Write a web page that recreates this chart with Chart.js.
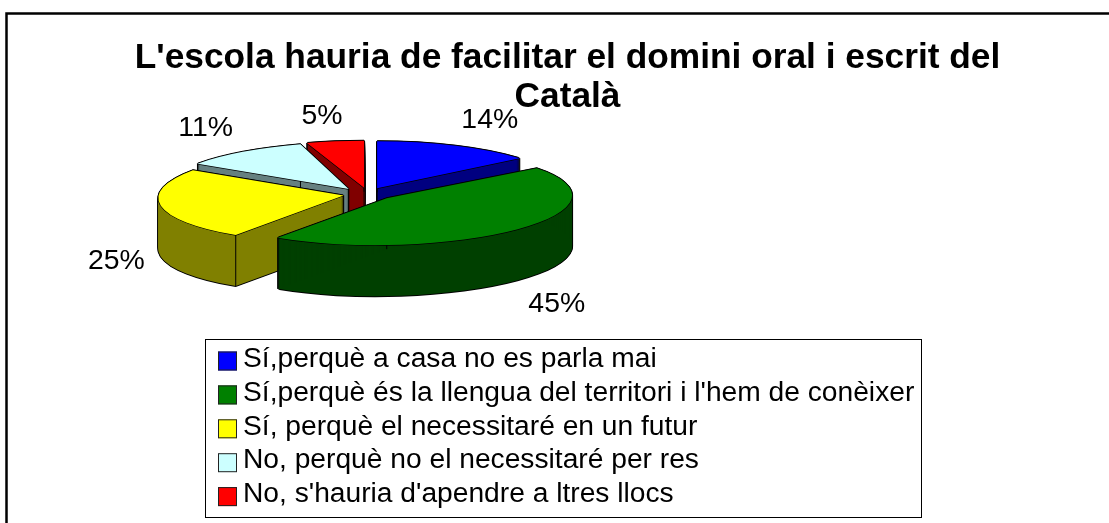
<!DOCTYPE html>
<html><head><meta charset="utf-8">
<style>html,body{margin:0;padding:0;background:#fff;overflow:hidden}canvas{display:block}</style>
<script src="https://cdn.jsdelivr.net/npm/chart.js@4"></script>
</head><body>
<div style="position:relative;width:1109px;height:523px"><canvas id="c" width="1109" height="523"></canvas></div>
<script>
const titleLines = ["L'escola hauria de facilitar el domini oral i escrit del", "Català"];
const categories = ["Sí,perquè a casa no es parla mai", "Sí,perquè és la llengua del territori i l'hem de conèixer", "Sí, perquè el necessitaré en un futur", "No, perquè no el necessitaré per res", "No, s'hauria d'apendre a ltres llocs"];
const values = [14, 45, 25, 11, 5];
const topColors = ["#0000FF", "#008000", "#FFFF00", "#CCFFFF", "#FF0000"];
const wallColors = ["#000080", "#004000", "#808000", "#668080", "#800000"];
const paintOrder = [4, 3, 0, 2, 1];
const nudgeX = [-1.5, 0, 0, -4, 0];
const sliceShear = [0, -0.25, -0.22, -0.2, 0];
const labelShift = [[43, -31.5], [50, 79], [-71, 57], [-49, -29], [-17, -31]];

const FONT = '"Liberation Sans", Arial, sans-serif';
const SQUASH = 0.254, DEPTH = 51, RADIUS = 185, EXPLODE = 25, CX = 368, CY = 194, TITLE_SIZE = 35.3, TITLE_LH = 1.105;
const LEGEND = {left: 205, top: 339, right: 921, bottom: 517, rowStep: 33.9, swatchY: 361, textY: 359, swatchX: 218, swatch: 19, textX: 243, size: 28.2};

function apex(arc, i) {
  const mid = (arc.startAngle + arc.endAngle) / 2;
  return [arc.x + Math.cos(mid) * EXPLODE + nudgeX[i], arc.y + Math.sin(mid) * EXPLODE * SQUASH];
}
function paintArc(ctx, arc, i, color, dx, dy) {
  const saved = arc.options, a = apex(arc, i);
  arc.options = {...saved, backgroundColor: color, borderWidth: 0};
  ctx.save();
  ctx.translate(a[0] + dx, a[1] + dy);
  ctx.transform(1, 0, sliceShear[i], 1, 0, 0);
  ctx.scale(1, SQUASH);
  ctx.translate(-arc.x, -arc.y);
  arc.draw(ctx);
  ctx.restore();
  arc.options = saved;
}
function arcCorners(arc, i) {
  const a = apex(arc, i), r = arc.outerRadius;
  const pt = t => {
    const ry = Math.sin(t) * r * SQUASH;
    return [a[0] + Math.cos(t) * r + sliceShear[i] * ry, a[1] + ry];
  };
  return [a, pt(arc.startAngle), pt(arc.endAngle)];
}
const SHIFTS = [[-1, 0], [1, 0], [0, -1], [0, 1]];
const pie3d = {
  id: 'pie3d',
  afterLayout(chart) {
    const t = chart.titleBlock;
    t.left = 0; t.right = 1135; t.top = 39;
  },
  beforeDraw(chart) {
    const c = chart.ctx;
    c.save();
    c.strokeStyle = '#000'; c.lineWidth = 2.5;
    c.strokeRect(6.5, 13.5, 1200, 600);
    c.restore();
  },
  beforeDatasetDraw(chart, args) {
    const c = chart.ctx, arcs = args.meta.data;
    paintOrder.forEach(i => {
      const arc = arcs[i];
      for (let d = 0; d <= DEPTH; d += 1) {
        SHIFTS.forEach(s => paintArc(c, arc, i, '#000', s[0], d + s[1]));
      }
      for (let d = 0; d <= DEPTH; d += 1) paintArc(c, arc, i, wallColors[i], 0, d);
      c.save();
      c.strokeStyle = '#000'; c.lineWidth = 1;
      arcCorners(arc, i).forEach(p => {
        c.beginPath(); c.moveTo(p[0], p[1]); c.lineTo(p[0], p[1] + DEPTH); c.stroke();
      });
      c.restore();
      SHIFTS.forEach(s => paintArc(c, arc, i, '#000', s[0] * 0.7, s[1] * 0.7));
      paintArc(c, arc, i, topColors[i], 0, 0);
    });
    return false;
  },
  afterDraw(chart) {
    const c = chart.ctx, arcs = chart.getDatasetMeta(0).data;
    c.save();
    c.fillStyle = '#000'; c.textAlign = 'center'; c.textBaseline = 'middle';
    c.font = '28.4px ' + FONT;
    arcs.forEach((arc, i) => {
      const mid = (arc.startAngle + arc.endAngle) / 2;
      const x = arc.x + Math.cos(mid) * arc.outerRadius + labelShift[i][0];
      const y = arc.y + Math.sin(mid) * arc.outerRadius * SQUASH + labelShift[i][1];
      c.fillText(values[i] + '%', x, y);
    });
    const L = LEGEND;
    c.strokeStyle = '#000'; c.lineWidth = 1;
    c.strokeRect(L.left + .5, L.top + .5, L.right - L.left, L.bottom - L.top);
    c.textAlign = 'left'; c.font = L.size + 'px ' + FONT;
    categories.forEach((name, i) => {
      const sy = L.swatchY + i * L.rowStep;
      c.fillStyle = topColors[i];
      c.fillRect(L.swatchX, sy - L.swatch / 2, L.swatch, L.swatch);
      c.strokeStyle = '#222';
      c.strokeRect(L.swatchX + .5, sy - L.swatch / 2 + .5, L.swatch - 1, L.swatch - 1);
      c.fillStyle = '#000';
      c.fillText(name, L.textX, L.textY + i * L.rowStep);
    });
    c.restore();
  }
};
new Chart(document.getElementById('c'), {
  type: 'pie',
  data: {labels: categories, datasets: [{data: values, backgroundColor: topColors, borderWidth: 0}]},
  options: {
    responsive: false, animation: false, radius: RADIUS,
    events: [],
    layout: {padding: {left: 0, right: 1109 - 2 * CX, top: 0, bottom: 2 * TITLE_SIZE * TITLE_LH + 523 - 2 * CY}},
    plugins: {
      legend: {display: false}, tooltip: {enabled: false},
      title: {display: true, text: titleLines, color: '#000', font: {family: FONT, size: TITLE_SIZE, weight: 'bold', lineHeight: TITLE_LH}, padding: 0}
    }
  },
  plugins: [pie3d]
});
</script></body></html>
